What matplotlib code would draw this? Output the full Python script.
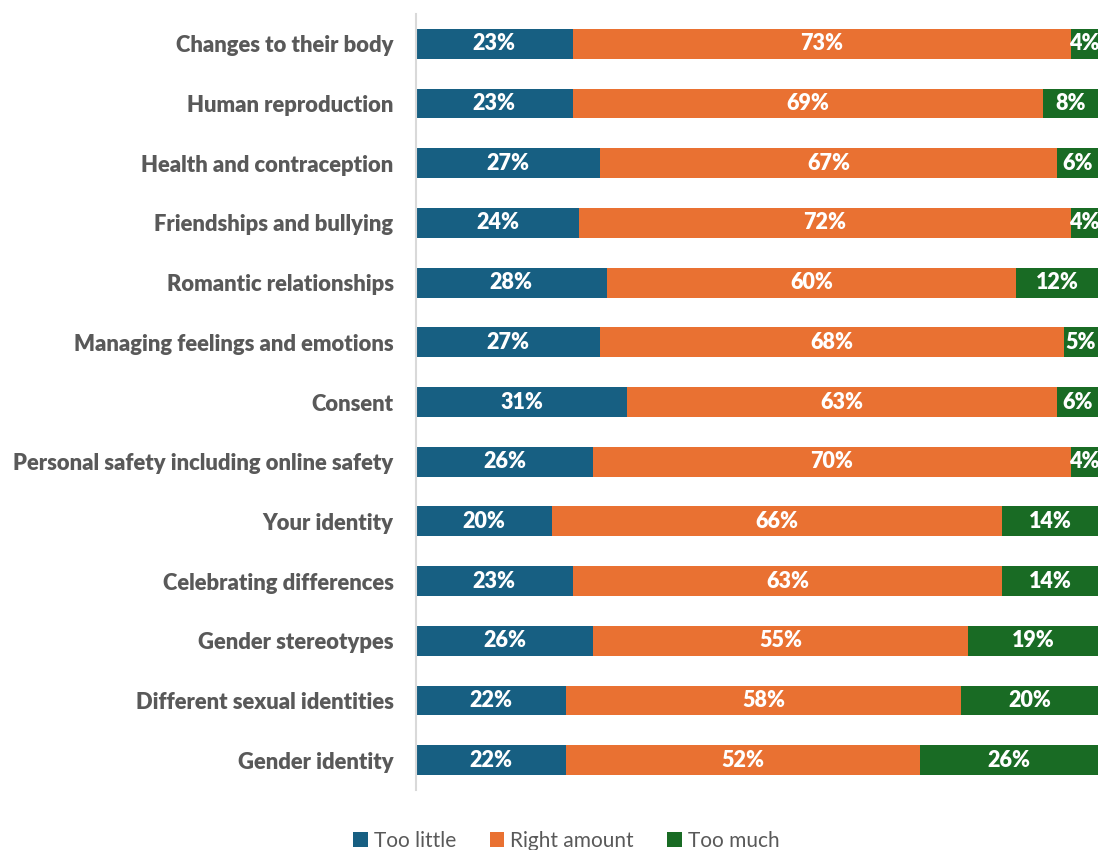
import matplotlib.pyplot as plt
import numpy as np

plt.rcParams['font.family'] = ['Lato', 'DejaVu Sans']

# Survey topics and share of responses
topics = ['Changes to their body', 'Human reproduction', 'Health and contraception',
          'Friendships and bullying', 'Romantic relationships',
          'Managing feelings and emotions', 'Consent',
          'Personal safety including online safety', 'Your identity',
          'Celebrating differences', 'Gender stereotypes',
          'Different sexual identities', 'Gender identity']
too_little = [23, 23, 27, 24, 28, 27, 31, 26, 20, 23, 26, 22, 22]
right_amount = [73, 69, 67, 72, 60, 68, 63, 70, 66, 63, 55, 58, 52]
too_much = [4, 8, 6, 4, 12, 5, 6, 4, 14, 14, 19, 20, 26]

series = [('Too little', too_little, '#175F82'),
          ('Right amount', right_amount, '#E97132'),
          ('Too much', too_much, '#196B24')]

fig = plt.figure(figsize=(11, 8.5), dpi=100)
ax = fig.add_axes([0.378, 0.0706, 0.620, 0.9129])

y = np.arange(len(topics))
left = np.zeros(len(topics))
for name, vals, color in series:
    vals = np.array(vals)
    ax.barh(y, vals, left=left, height=0.5, color=color, label=name)
    for yi, l, v in zip(y, left, vals):
        ax.text(l + v / 2, yi, f'{v}%', ha='center', va='center',
                color='white', fontsize=15.5, fontweight='heavy')
    left += vals

ax.set_xlim(0, 100)
ax.set_ylim(len(topics) - 0.5, -0.5)
ax.set_yticks(y)
ax.set_yticklabels(topics, fontsize=15.8, fontweight='heavy', color='#595959')
ax.tick_params(axis='y', length=0, pad=16)
ax.set_xticks([])
for side in ['top', 'right', 'bottom']:
    ax.spines[side].set_visible(False)
ax.spines['left'].set_color('#D9D9D9')
ax.spines['left'].set_linewidth(1.5)

leg = fig.legend(loc='center', bbox_to_anchor=(0.515, 0.011), ncol=3, frameon=False,
                 fontsize=15, handlelength=0.7, handleheight=0.7,
                 handletextpad=0.3, columnspacing=1.6)
for t in leg.get_texts():
    t.set_color('#595959')

fig.savefig('out.png', dpi=100)
